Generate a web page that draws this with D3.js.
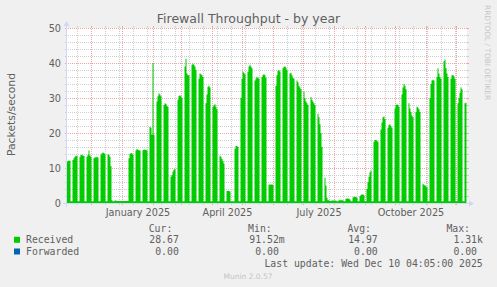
<!DOCTYPE html>
<html><head><meta charset="utf-8">
<script src="https://cdn.jsdelivr.net/npm/d3@7"></script>
<style>html,body{margin:0;padding:0;background:#f0f0f0;} svg{display:block;}</style>
</head><body><svg id="c" width="497" height="287"></svg>
<script>
// ---------------- data ----------------
const title = "Firewall Throughput - by year";
const yLabel = "Packets/second";
const firstDay = Date.UTC(2024, 10, 5);          // first daily row (Tue 5 Nov 2024)
const windowEnd = Date.UTC(2025, 11, 11, 12);     // right edge of graph
const windowDays = 400;
const yDomain = [0, 50];
const yMajorTicks = [0, 10, 20, 30, 40, 50];
const labelMonths = [0, 3, 6, 9];                 // January, April, July, October
const seriesNames = ["Received", "Forwarded"];
const seriesColors = ["#00cc00", "#0066b3"];
const statHeaders = ["Cur:", "Min:", "Avg:", "Max:"];
const receivedStats = ["28.67", "91.52m", "14.97", "1.31k"];
const forwardedStats = ["0.00", "0.00", "0.00", "0.00"];
const lastUpdate = "Last update: Wed Dec 10 04:05:00 2025";
const watermark = "Munin 2.0.57";
const sideText = "RRDTOOL / TOBI OETIKER";

// daily averages, packets/second (Mon..Sun rows)
const received = [
  11.8, 12.0, 12.2, 12.0, 0.5, 0.5,
  12.3, 12.8, 13.2, 13.5, 13.4, 0.5, 0.5,
  13.2, 13.7, 13.8, 13.6, 13.4, 0.5, 0.5,
  13.2, 13.8, 15.0, 13.6, 13.2, 0.5, 0.5,
  12.8, 13.1, 13.0, 13.2, 13.0, 0.5, 0.5,
  13.8, 14.2, 14.4, 14.3, 13.9, 0.5, 0.5,
  13.9, 13.8, 13.2, 10.5, 0.8, 0.5, 0.5,
  0.7, 0.7, 0.6, 0.6, 0.6, 0.6, 0.6,
  0.6, 0.6, 0.6, 0.6, 0.6, 0.6, 0.6,
  12.8, 14.0, 14.3, 14.2, 13.8, 0.5, 0.5,
  15.0, 15.4, 15.2, 15.1, 15.0, 0.5, 0.5,
  15.1, 15.3, 15.2, 15.2, 15.0, 0.5, 0.5,
  21.8, 21.5, 19.5, 40.0, 19.5, 0.5, 0.5,
  29.0, 30.5, 31.3, 31.0, 30.5, 0.5, 0.5,
  28.0, 28.5, 28.3, 27.8, 27.5, 0.5, 0.5,
  7.5, 8.0, 9.0, 9.5, 9.8, 0.5, 0.5,
  29.5, 30.6, 30.8, 30.5, 30.0, 0.5, 0.5,
  39.0, 41.2, 37.0, 36.5, 36.5, 0.5, 0.5,
  39.5, 39.8, 39.5, 39.0, 38.0, 0.5, 0.5,
  35.5, 37.0, 36.8, 36.5, 36.0, 0.5, 0.5,
  28.5, 31.0, 33.2, 33.5, 33.0, 0.5, 0.5,
  27.5, 28.0, 28.2, 27.5, 26.8, 0.5, 0.5,
  13.5, 13.2, 12.6, 12.0, 11.3, 0.5, 0.5,
  3.4, 3.5, 3.5, 3.3, 0.5, 0.5, 0.5,
  0.5, 15.5, 16.3, 16.3, 16.0, 0.5, 0.5,
  30.0, 35.5, 37.5, 37.2, 36.8, 0.5, 0.5,
  37.5, 39.0, 39.5, 39.0, 38.5, 0.5, 0.5,
  35.0, 35.6, 36.0, 35.8, 35.5, 0.5, 0.5,
  36.0, 36.6, 36.8, 36.5, 35.8, 0.5, 0.5,
  5.2, 5.3, 5.3, 5.3, 5.2, 0.5, 0.5,
  33.5, 36.5, 37.8, 38.0, 37.6, 0.5, 0.5,
  38.5, 38.9, 39.0, 38.7, 38.0, 0.5, 0.5,
  37.0, 37.2, 36.5, 35.8, 35.5, 0.5, 0.5,
  35.0, 34.5, 33.5, 33.0, 32.5, 0.5, 0.5,
  31.8, 30.0, 29.0, 28.5, 28.0, 0.5, 0.5,
  30.3, 29.5, 29.0, 28.5, 28.0, 0.5, 0.5,
  25.5, 24.5, 22.5, 20.0, 16.0, 0.5, 0.5,
  7.2, 5.0, 1.5, 0.8, 0.8, 0.6, 0.6,
  0.7, 0.7, 0.7, 0.7, 0.7, 0.5, 0.5,
  0.8, 0.8, 0.8, 0.8, 0.8, 0.5, 0.5,
  1.2, 1.3, 1.3, 1.2, 1.0, 0.5, 0.5,
  1.6, 1.8, 1.8, 1.7, 1.5, 0.5, 0.5,
  2.0, 2.3, 2.5, 2.4, 2.2, 0.5, 0.5,
  4.0, 6.0, 7.5, 8.8, 9.3, 0.5, 0.5,
  17.5, 18.0, 18.0, 17.8, 17.5, 0.5, 0.5,
  21.0, 23.0, 24.5, 24.7, 24.0, 0.5, 0.5,
  21.5, 22.3, 22.5, 22.0, 21.5, 0.5, 0.5,
  27.0, 28.0, 28.2, 28.0, 27.5, 0.5, 0.5,
  31.0, 33.0, 34.0, 33.5, 32.5, 0.5, 0.5,
  28.5, 27.0, 26.0, 25.0, 24.5, 0.5, 0.5,
  26.0, 27.5, 27.3, 26.8, 26.0, 0.5, 0.5,
  5.5, 5.2, 5.0, 4.8, 4.5, 0.5, 0.5,
  30.0, 34.0, 35.0, 35.2, 35.0, 0.5, 0.5,
  36.0, 38.5, 37.0, 36.0, 35.5, 0.5, 0.5,
  40.5, 41.0, 38.5, 37.0, 36.0, 0.5, 0.5,
  35.5, 36.5, 36.6, 36.2, 35.5, 0.5, 0.5,
  28.5, 30.0, 31.5, 33.0, 32.5, 0.5, 0.5,
  28.5, 28.67
];
// forwarded is 0.00 throughout (see legend)
const forwarded = new Array(received.length).fill(0);

// ---------------- drawing ----------------
const DAY = 86400000;
const W = 497, H = 287;
const X0 = 67, X1 = 467, YT = 28, YB = 203;
const FONT = "DejaVu Sans, sans-serif";
const MONO = "DejaVu Sans Mono, monospace";
const TXT = "#606060";
const GRID = "#cfcfcf";
const MGRID = "#efa6a6";
const AXIS = "#cfd6f8";

const svg = d3.select("#c");
const x = d3.scaleUtc().domain([new Date(windowEnd - windowDays * DAY), new Date(windowEnd)]).range([X0, X1]);
const y = d3.scaleLinear().domain(yDomain).range([YB, YT]);

svg.append("rect").attr("width", W).attr("height", H).attr("fill", "#f0f0f0");
svg.append("rect").attr("x", X0).attr("y", YT).attr("width", X1 - X0).attr("height", YB - YT).attr("fill", "#ffffff");

// grid lines as explicit 1px dots (rrdtool-style 1:1 dashes) + 2px solid ticks outside canvas
const grid = svg.append("g").attr("shape-rendering", "crispEdges");
function hLine(v, col) {
  const r = Math.round(y(v));
  let d = `M${X0 - 2},${r}h2v1h-2z M${X1},${r}h2v1h-2z`;
  for (let px = X0 + 1; px < X1; px += 2) d += `M${px},${r}h1v1h-1z`;
  grid.append("path").attr("d", d).attr("fill", col);
}
function vLine(t, col) {
  const c = Math.floor(x(t));
  let d = `M${c},${YT - 2}h1v2h-1z M${c},${YB}h1v2h-1z`;
  for (let py = YT + 1; py < YB; py += 2) d += `M${c},${py}h1v1h-1z`;
  grid.append("path").attr("d", d).attr("fill", col);
}
// minor horizontal grid (every 2)
y.ticks(25).filter(v => !yMajorTicks.includes(v)).forEach(v => hLine(v, GRID));
// minor vertical grid: every other Sunday
const [d0, d1] = x.domain();
const anchor = Date.UTC(2024, 10, 17);
const months = d3.utcMonth.range(d0, d1);
d3.utcSunday.range(d0, d1)
  .filter(d => Math.round((d - anchor) / (7 * DAY)) % 2 === 0 && d.getUTCDate() !== 1)
  .forEach(d => vLine(d, GRID));
// major grid
yMajorTicks.filter(v => v > 0).forEach(v => hLine(v, MGRID));
months.forEach(m => vLine(m, MGRID));

// data
const rows = received.map((v, i) => ({ t: new Date(firstDay + (i + 1) * DAY), Received: v, Forwarded: forwarded[i] }));
const last = rows[rows.length - 1];
rows.push({ t: new Date(+last.t + DAY), Received: last.Received, Forwarded: last.Forwarded });
const stacked = d3.stack().keys(seriesNames)(rows);

svg.append("clipPath").attr("id", "clip").append("rect")
  .attr("x", X0).attr("y", YT - 1).attr("width", X1 - X0).attr("height", YB - YT + 1);
const area = d3.area().curve(d3.curveStepAfter)
  .x(d => x(d.data.t)).y0(d => y(d[0])).y1(d => y(d[1]));
svg.append("g").attr("clip-path", "url(#clip)")
  .selectAll("path").data(stacked).join("path")
  .attr("d", area).attr("fill", (d, i) => seriesColors[i]);

// axes + arrows
const ax = svg.append("g");
ax.append("line").attr("x1", X0 - 4).attr("x2", X1 + 4).attr("y1", YB + 0.5).attr("y2", YB + 0.5)
  .attr("stroke", AXIS).attr("shape-rendering", "crispEdges");
ax.append("line").attr("x1", X0 - 0.5).attr("x2", X0 - 0.5).attr("y1", YB + 4).attr("y2", YT - 4)
  .attr("stroke", AXIS).attr("shape-rendering", "crispEdges");
ax.append("path").attr("d", `M${X1 + 2},${YB - 2.5}L${X1 + 2},${YB + 3.5}L${X1 + 7},${YB + 0.5}Z`).attr("fill", AXIS);
ax.append("path").attr("d", `M${X0 - 3.5},${YT - 2}L${X0 + 2.5},${YT - 2}L${X0 - 0.5},${YT - 7}Z`).attr("fill", AXIS);

// y tick labels
svg.append("g").selectAll("text").data(yMajorTicks).join("text")
  .attr("x", 61).attr("y", v => y(v) + 3.6).attr("text-anchor", "end")
  .attr("font-family", FONT).attr("font-size", 9.7).attr("fill", TXT).text(v => v);

// x labels, centred in their month
const fmt = d3.utcFormat("%B %Y");
svg.append("g").selectAll("text").data(months.filter(m => labelMonths.includes(m.getUTCMonth())))
  .join("text")
  .attr("x", m => (x(m) + x(d3.utcMonth.offset(m, 1))) / 2).attr("y", 215.5)
  .attr("text-anchor", "middle").attr("font-family", FONT).attr("font-size", 9.7).attr("fill", TXT)
  .text(m => fmt(m));

// title
svg.append("text").attr("x", 248.5).attr("y", 22.5).attr("text-anchor", "middle")
  .attr("font-family", FONT).attr("font-size", 12.5).attr("fill", TXT).text(title);

// y axis label
svg.append("text").attr("transform", "translate(15,114.5) rotate(-90)").attr("text-anchor", "middle")
  .attr("font-family", FONT).attr("font-size", 10.8).attr("fill", TXT).text(yLabel);

// side watermark
svg.append("text").attr("transform", "translate(485,5) rotate(90)").attr("text-anchor", "start")
  .attr("font-family", FONT).attr("font-size", 7.4).attr("fill", "#c6c6c6").text(sideText);

// legend
const headerEnds = [172.3, 271.7, 371, 470];
const numEnds = [178.8, 278.8, 377.7, 477];
const lg = svg.append("g").attr("font-family", MONO).attr("font-size", 9.8).attr("fill", TXT);
statHeaders.forEach((h, i) => lg.append("text").attr("x", headerEnds[i]).attr("y", 232).attr("text-anchor", "end").text(h));
const legendRows = [
  { name: seriesNames[0], color: seriesColors[0], stats: receivedStats, base: 243.3 },
  { name: seriesNames[1], color: seriesColors[1], stats: forwardedStats, base: 255 }
];
legendRows.forEach(r => {
  svg.append("rect").attr("x", 14).attr("y", r.base - 6.5).attr("width", 6).attr("height", 6).attr("fill", r.color);
  lg.append("text").attr("x", 26).attr("y", r.base).text(r.name);
  r.stats.forEach((s, i) => {
    const m = s.match(/^([\d.]+)(\D?)$/);
    lg.append("text").attr("x", numEnds[i]).attr("y", r.base).attr("text-anchor", "end").text(m[1]);
    if (m[2]) lg.append("text").attr("x", numEnds[i]).attr("y", r.base).text(m[2]);
  });
});
lg.append("text").attr("x", 482.7).attr("y", 266.7).attr("text-anchor", "end").text(lastUpdate);

svg.append("text").attr("x", 248).attr("y", 279).attr("text-anchor", "middle")
  .attr("font-family", FONT).attr("font-size", 7.5).attr("fill", "#c4c4c4").text(watermark);
</script>
</body></html>
